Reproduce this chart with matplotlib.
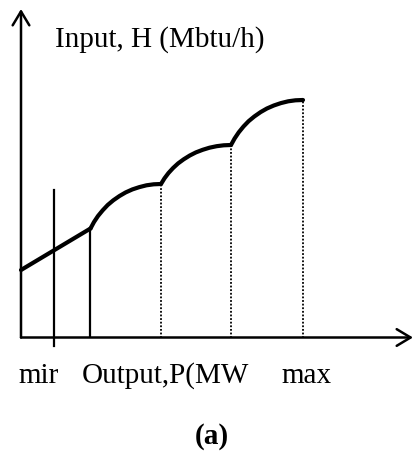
import matplotlib
matplotlib.use("Agg")
import matplotlib.pyplot as plt

# ---- data (arbitrary units) ----
lin_P = [0.0, 69.5]
lin_H = [67.5, 109.0]

arc1_P = [69.5, 73.0, 77.0, 81.7, 86.7, 92.3, 98.5, 104.7, 111.4, 118.4, 125.5, 132.7, 140.0]
arc1_H = [109.0, 115.5, 121.5, 127.2, 132.5, 137.2, 141.5, 145.1, 148.1, 150.4, 152.2, 153.2, 153.5]

arc2_P = [140.0, 143.5, 147.5, 152.1, 157.1, 162.7, 168.8, 174.9, 181.7, 188.5, 195.6, 202.7, 210.0]
arc2_H = [153.5, 159.2, 164.5, 169.5, 174.1, 178.2, 182.0, 185.1, 187.7, 189.8, 191.3, 192.2, 192.5]

arc3_P = [210.0, 213.6, 217.7, 222.5, 227.6, 233.3, 239.6, 245.9, 252.8, 259.9, 267.2, 274.5, 282.0]
arc3_H = [192.5, 199.0, 205.1, 211.0, 216.3, 221.0, 225.4, 229.0, 232.0, 234.4, 236.2, 237.2, 237.5]

P_min = 33.3
min_line_H = [-8.0, 147.5]
solid_break_P = 69.5
dotted_P = [140.0, 210.0, 282.0]

y_label = "Input, H (Mbtu/h)"
x_labels = ["mir", "Output,P(MW", "max"]
caption = "(a)"

# ---- figure ----
W, H = 416, 454
fig = plt.figure(figsize=(W / 100, H / 100), dpi=100)
fig.patch.set_facecolor("white")
ox, oy = 21, 337.5
ax = fig.add_axes([ox / W, (H - oy) / H, (413 - ox) / W, (oy - 9) / H])
ax.set_xlim(0, 413 - ox)
ax.set_ylim(0, oy - 9)
ax.axis("off")

arrow = dict(arrowstyle="->,head_length=1.0,head_width=0.6", lw=1.8,
             color="black", mutation_scale=10, shrinkA=0, shrinkB=0)
ax.annotate("", xy=(0, oy - 9), xytext=(0, 0), arrowprops=arrow,
            annotation_clip=False)
ax.annotate("", xy=(413 - ox, 0), xytext=(0, 0), arrowprops=arrow,
            annotation_clip=False)

curve_kw = dict(color="black", lw=3.0, solid_capstyle="round",
                solid_joinstyle="round", clip_on=False)
ax.plot(lin_P, lin_H, **curve_kw)
ax.plot(arc1_P, arc1_H, **curve_kw)
ax.plot(arc2_P, arc2_H, **curve_kw)
ax.plot(arc3_P, arc3_H, **curve_kw)

ax.plot([P_min, P_min], min_line_H, color="black", lw=1.6, clip_on=False)
ax.plot([solid_break_P, solid_break_P], [0, lin_H[-1]], color="black", lw=1.6)

tops = [arc1_H[-1], arc2_H[-1], arc3_H[-1]]
for p, top in zip(dotted_P, tops):
    ax.plot([p, p], [0, top], color="black", lw=1.3, linestyle=(0, (1, 1)))

font = ["Liberation Serif", "DejaVu Serif"]
fs = 21
fig.text(55 / W, 1 - 46.5 / H, y_label, family=font, fontsize=fs,
         ha="left", va="baseline")
fig.text(18 / W, 1 - 383 / H, x_labels[0], family=font, fontsize=fs,
         ha="left", va="baseline")
fig.text(82 / W, 1 - 383 / H, x_labels[1], family=font, fontsize=fs,
         ha="left", va="baseline")
fig.text(281 / W, 1 - 383 / H, x_labels[2], family=font, fontsize=fs,
         ha="left", va="baseline")
fig.text(212 / W, 1 - 437 / H, caption, family=font, fontsize=fs,
         fontweight="bold", ha="center", va="center")

fig.savefig("out.png", dpi=100, facecolor="white")
